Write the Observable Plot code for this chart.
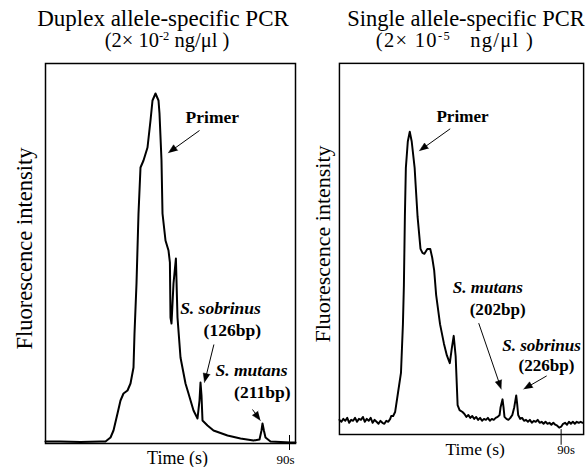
<!DOCTYPE html>
<html><head><meta charset="utf-8">
<script src="https://cdn.jsdelivr.net/npm/d3@7"></script>
<script src="https://cdn.jsdelivr.net/npm/@observablehq/plot@0.6"></script>
<style>
body{margin:0;background:#fff;}
#wrap{position:relative;width:588px;height:467px;overflow:hidden;font-family:"Liberation Serif","Times New Roman",serif;color:#000;background:#fff;}
.title{position:absolute;white-space:nowrap;transform:translateX(-50%);font-size:23px;line-height:0.85;}
.sub{position:absolute;white-space:nowrap;transform:translateX(-50%);font-size:20.5px;line-height:0.85;}
.sub sup{font-size:12.5px;line-height:0;vertical-align:baseline;position:relative;top:-7px;}
.panel{position:absolute;top:58px;}
</style></head><body>
<div id="wrap">
<div class="title" style="left:163px;top:9px">Duplex allele-specific PCR</div>
<div class="sub" style="left:167px;top:32px">(2× 10<sup>-2</sup> ng/μl )</div>
<div class="title" style="left:466px;top:9px;font-size:22.5px">Single allele-specific PCR</div>
<div class="sub" style="left:455px;top:32px;letter-spacing:1.3px">(2× 10<sup>-5</sup>&nbsp;&nbsp; ng/μl&nbsp;)</div>
<div class="panel" id="left" style="left:0px"></div>
<div class="panel" id="right" style="left:295px"></div>
</div>
<script>
// ---- data: duplex allele-specific PCR trace ----
const duplexTime = [29, 32.75, 37.75, 42.75, 44, 45.25, 46, 47, 47.75, 48.5, 49.5, 50.25, 51, 51.25, 51.75, 52.25, 52.75, 53.5, 54.5, 55.25, 55.75, 56.5, 57.25, 57.5, 58, 58.25, 59, 59.75, 60.1, 60.25, 60.5, 61, 61.6, 62, 62.75, 64, 64.75, 66, 67, 67.5, 67.75, 68, 68.25, 69.5, 71, 74.5, 77.75, 81, 82.5, 83, 83.25, 83.6, 84, 85.25, 87.75, 90.25, 91.5];
const duplexIntensity = [1, 1, 0.8, 1, 1, 3, 6.5, 15, 21.5, 25, 26.5, 30, 38, 55, 80, 115, 138, 141.5, 148, 161.5, 171.5, 175, 171.5, 165, 141.5, 115, 101.5, 96.5, 90.5, 63, 60, 80, 92.5, 63, 43, 30, 25, 16.5, 12.5, 21.5, 30.5, 24, 11.5, 9, 6.5, 4, 2.5, 1.5, 2, 6.5, 10, 6.5, 3, 1, 0.8, 0.5, 0.5];

// ---- data: single allele-specific PCR trace ----
const singleTime = [33.25,33.75,34.25,34.75,35.25,35.75,36.25,36.75,37.25,37.75,38.25,38.75,39.25,39.75,40.25,40.75,41.25,41.75,42.25,42.75,43.25,43.75,44.25,44.75,45.25,45.75,46.25,46.5,
47,47.5,48.25,49,49.5,49.75,50,50.25,50.75,51.25,51.75,52.5,52.75,53.25,54,54.5,55,55.75,56.5,57,57.5,58,59,60,60.75,61.5,62,62.5,63,63.5,64,64.75,
65.25,65.75,66.25,66.75,67.25,67.75,68.25,68.75,69.25,69.75,70.25,70.75,71.25,71.75,72.25,72.75,73.25,73.75,74.25,
74.5,75,75.25,75.5,76,76.5,77,77.5,78,78.5,78.75,79,
79.5,80,80.5,81,81.5,82,82.5,83,83.5,84,84.5,85,85.5,86,86.5,87,87.5,88,88.5,89,89.5,90,90.5,91,91.5,92,92.5,93,93.5,94,94.5,95,95.5];
const singleIntensity = [7.5,6.5,8,7,8.5,6,7.5,7,8.5,6.5,8,7.5,9,6.5,8,7,8.5,6,7.5,6.5,5.5,7,6,5.5,7,6.5,8,9.5,
9.5,11.5,21.5,31.5,56.5,76.5,111.5,136.5,150,155,150,136.5,128,111.5,95,93,92.5,95,95,90.5,84,71.5,56.5,46.5,40.5,36.5,44,50.5,40,15,12.5,11.5,
10.5,9,10,8.5,9.5,8,9,7.5,8.5,7,8,7.5,8.5,7,8,7.5,8.5,9,10,
14,18,14,9,8,7.5,8.5,10,14,20,15.5,10,
8,8.5,7,7.5,6.5,7.5,6,7,6.5,7.5,6,6.5,5.5,6.5,5.5,6,5,6,5,4.5,3.5,4,5.5,6,5,6.5,5.5,6.5,5.5,6.5,6,6.5,6];

// ---- axis tick ----
const tickTimes = [90];
const tickLabels = ["90s"];

// ---- annotations ----
const duplexNotes = [
  {text: "Primer", t: 70.7, v: 163, italic: false},
  {text: "S. sobrinus", t: 72.75, v: 67.75, italic: true},
  {text: "(126bp)", t: 75.7, v: 56.75, italic: false},
  {text: "S. mutans", t: 80.5, v: 36.5, italic: true},
  {text: "(211bp)", t: 83.2, v: 25.5, italic: false}
];
const duplexArrows = [
  {t1: 67.5, v1: 156.5, t2: 59.7, v2: 145.3},
  {t1: 71.1, v1: 49.5, t2: 68.75, v2: 30.5},
  {t1: 80.75, v1: 17, t2: 82.75, v2: 11.5}
];
const singleNotes = [
  {text: "Primer", t: 64.75, v: 163, italic: false},
  {text: "S. mutans", t: 71.25, v: 75.5, italic: true},
  {text: "(202bp)", t: 73.75, v: 64, italic: false},
  {text: "(226bp)", t: 86.25, v: 35.5, italic: false}
];
const singleStartNotes = [
  {text: "S. sobrinus", t: 74.9, v: 45.5, italic: true}
];
const singleArrows = [
  {t1: 61.6, v1: 156.5, t2: 53.7, v2: 145.2},
  {t1: 68.9, v1: 57, t2: 74.7, v2: 23.2},
  {t1: 86.3, v1: 30, t2: 80.4, v2: 23.2}
];

const FONT = '"Liberation Serif","Times New Roman",serif';

function arrowParts(arrows, kx, ky) {
  const links = [], heads = [];
  arrows.forEach((a, i) => {
    const sx = (a.t2 - a.t1) * kx, sy = -(a.v2 - a.v1) * ky;
    const len = Math.hypot(sx, sy), ux = sx / len, uy = sy / len;
    const L = 9, W = 3.5;
    const bx = -ux * L, by = -uy * L;
    const toData = (ox, oy) => ({t: a.t2 + ox / kx, v: a.v2 - oy / ky, id: i});
    const e = toData(bx * 0.8, by * 0.8);
    links.push({t1: a.t1, v1: a.v1, t2: e.t, v2: e.v});
    heads.push(toData(0, 0), toData(bx - uy * W, by + ux * W), toData(bx + uy * W, by - ux * W));
  });
  return {links, heads};
}

function panel(cfg) {
  const W = 300, H = 409, mL = 45, mR = 5, mT = 5, mB = 24;
  const yDomain = [0, 190];
  const kx = (W - mL - mR) / (cfg.domain[1] - cfg.domain[0]);
  const ky = (H - mT - mB) / (yDomain[1] - yDomain[0]);
  const trace = cfg.time.map((t, i) => ({t, v: cfg.intensity[i]}));
  const ticks = tickTimes.map((t, i) => ({t, label: tickLabels[i]}));
  const {links, heads} = arrowParts(cfg.arrows, kx, ky);
  return Plot.plot({
    width: W, height: H, marginLeft: mL, marginRight: mR, marginTop: mT, marginBottom: mB,
    x: {domain: cfg.domain, axis: null},
    y: {domain: yDomain, axis: null},
    style: {fontFamily: FONT, background: "transparent", overflow: "visible", color: "black"},
    marks: [
      Plot.frame({stroke: "black", strokeWidth: 1.5}),
      Plot.line(trace, {x: "t", y: "v", stroke: "black", strokeWidth: 2, strokeLinejoin: "round"}),
      Plot.ruleX(ticks, {x: "t", y1: cfg.tickLow, y2: cfg.tickHigh, stroke: "black", strokeWidth: 1}),
      Plot.text(ticks, {x: "t", y: -8, text: "label", fontSize: 13, dx: cfg.tickDx}),
      Plot.text(["Time (s)"], {x: cfg.timeX, y: -7.5, text: d => d, fontSize: 18}),
      Plot.text(["Fluorescence intensity"], {frameAnchor: "left", textAnchor: "middle", text: d => d, rotate: -90, dx: cfg.ylabDx, dy: -5, fontSize: 22.5}),
      Plot.link(links, {x1: "t1", y1: "v1", x2: "t2", y2: "v2", stroke: "black", strokeWidth: 1}),
      Plot.line(heads, {x: "t", y: "v", z: "id", fill: "black", stroke: "black", strokeWidth: 0.5}),
      Plot.text(cfg.notes.filter(d => !d.italic), {x: "t", y: "v", text: "text", fontSize: 17.5, fontWeight: "bold"}),
      Plot.text(cfg.notes.filter(d => d.italic), {x: "t", y: "v", text: "text", fontSize: 17.5, fontWeight: "bold", fontStyle: "italic"}),
      Plot.text(cfg.startNotes, {x: "t", y: "v", text: "text", fontSize: 17.5, fontWeight: "bold", fontStyle: "italic", textAnchor: "start"})
    ]
  });
}

document.getElementById("left").append(panel({
  domain: [29, 91.5], time: duplexTime, intensity: duplexIntensity,
  arrows: duplexArrows, notes: duplexNotes, startNotes: [],
  tickLow: -3.5, tickHigh: 4, tickDx: -4, timeX: 62, ylabDx: -21
}));
document.getElementById("right").append(panel({
  domain: [33.25, 95.75], time: singleTime, intensity: singleIntensity,
  arrows: singleArrows, notes: singleNotes, startNotes: singleStartNotes,
  tickLow: -5.5, tickHigh: 2.5, tickDx: 5, timeX: 68, ylabDx: -17
}));
</script>
</body></html>
